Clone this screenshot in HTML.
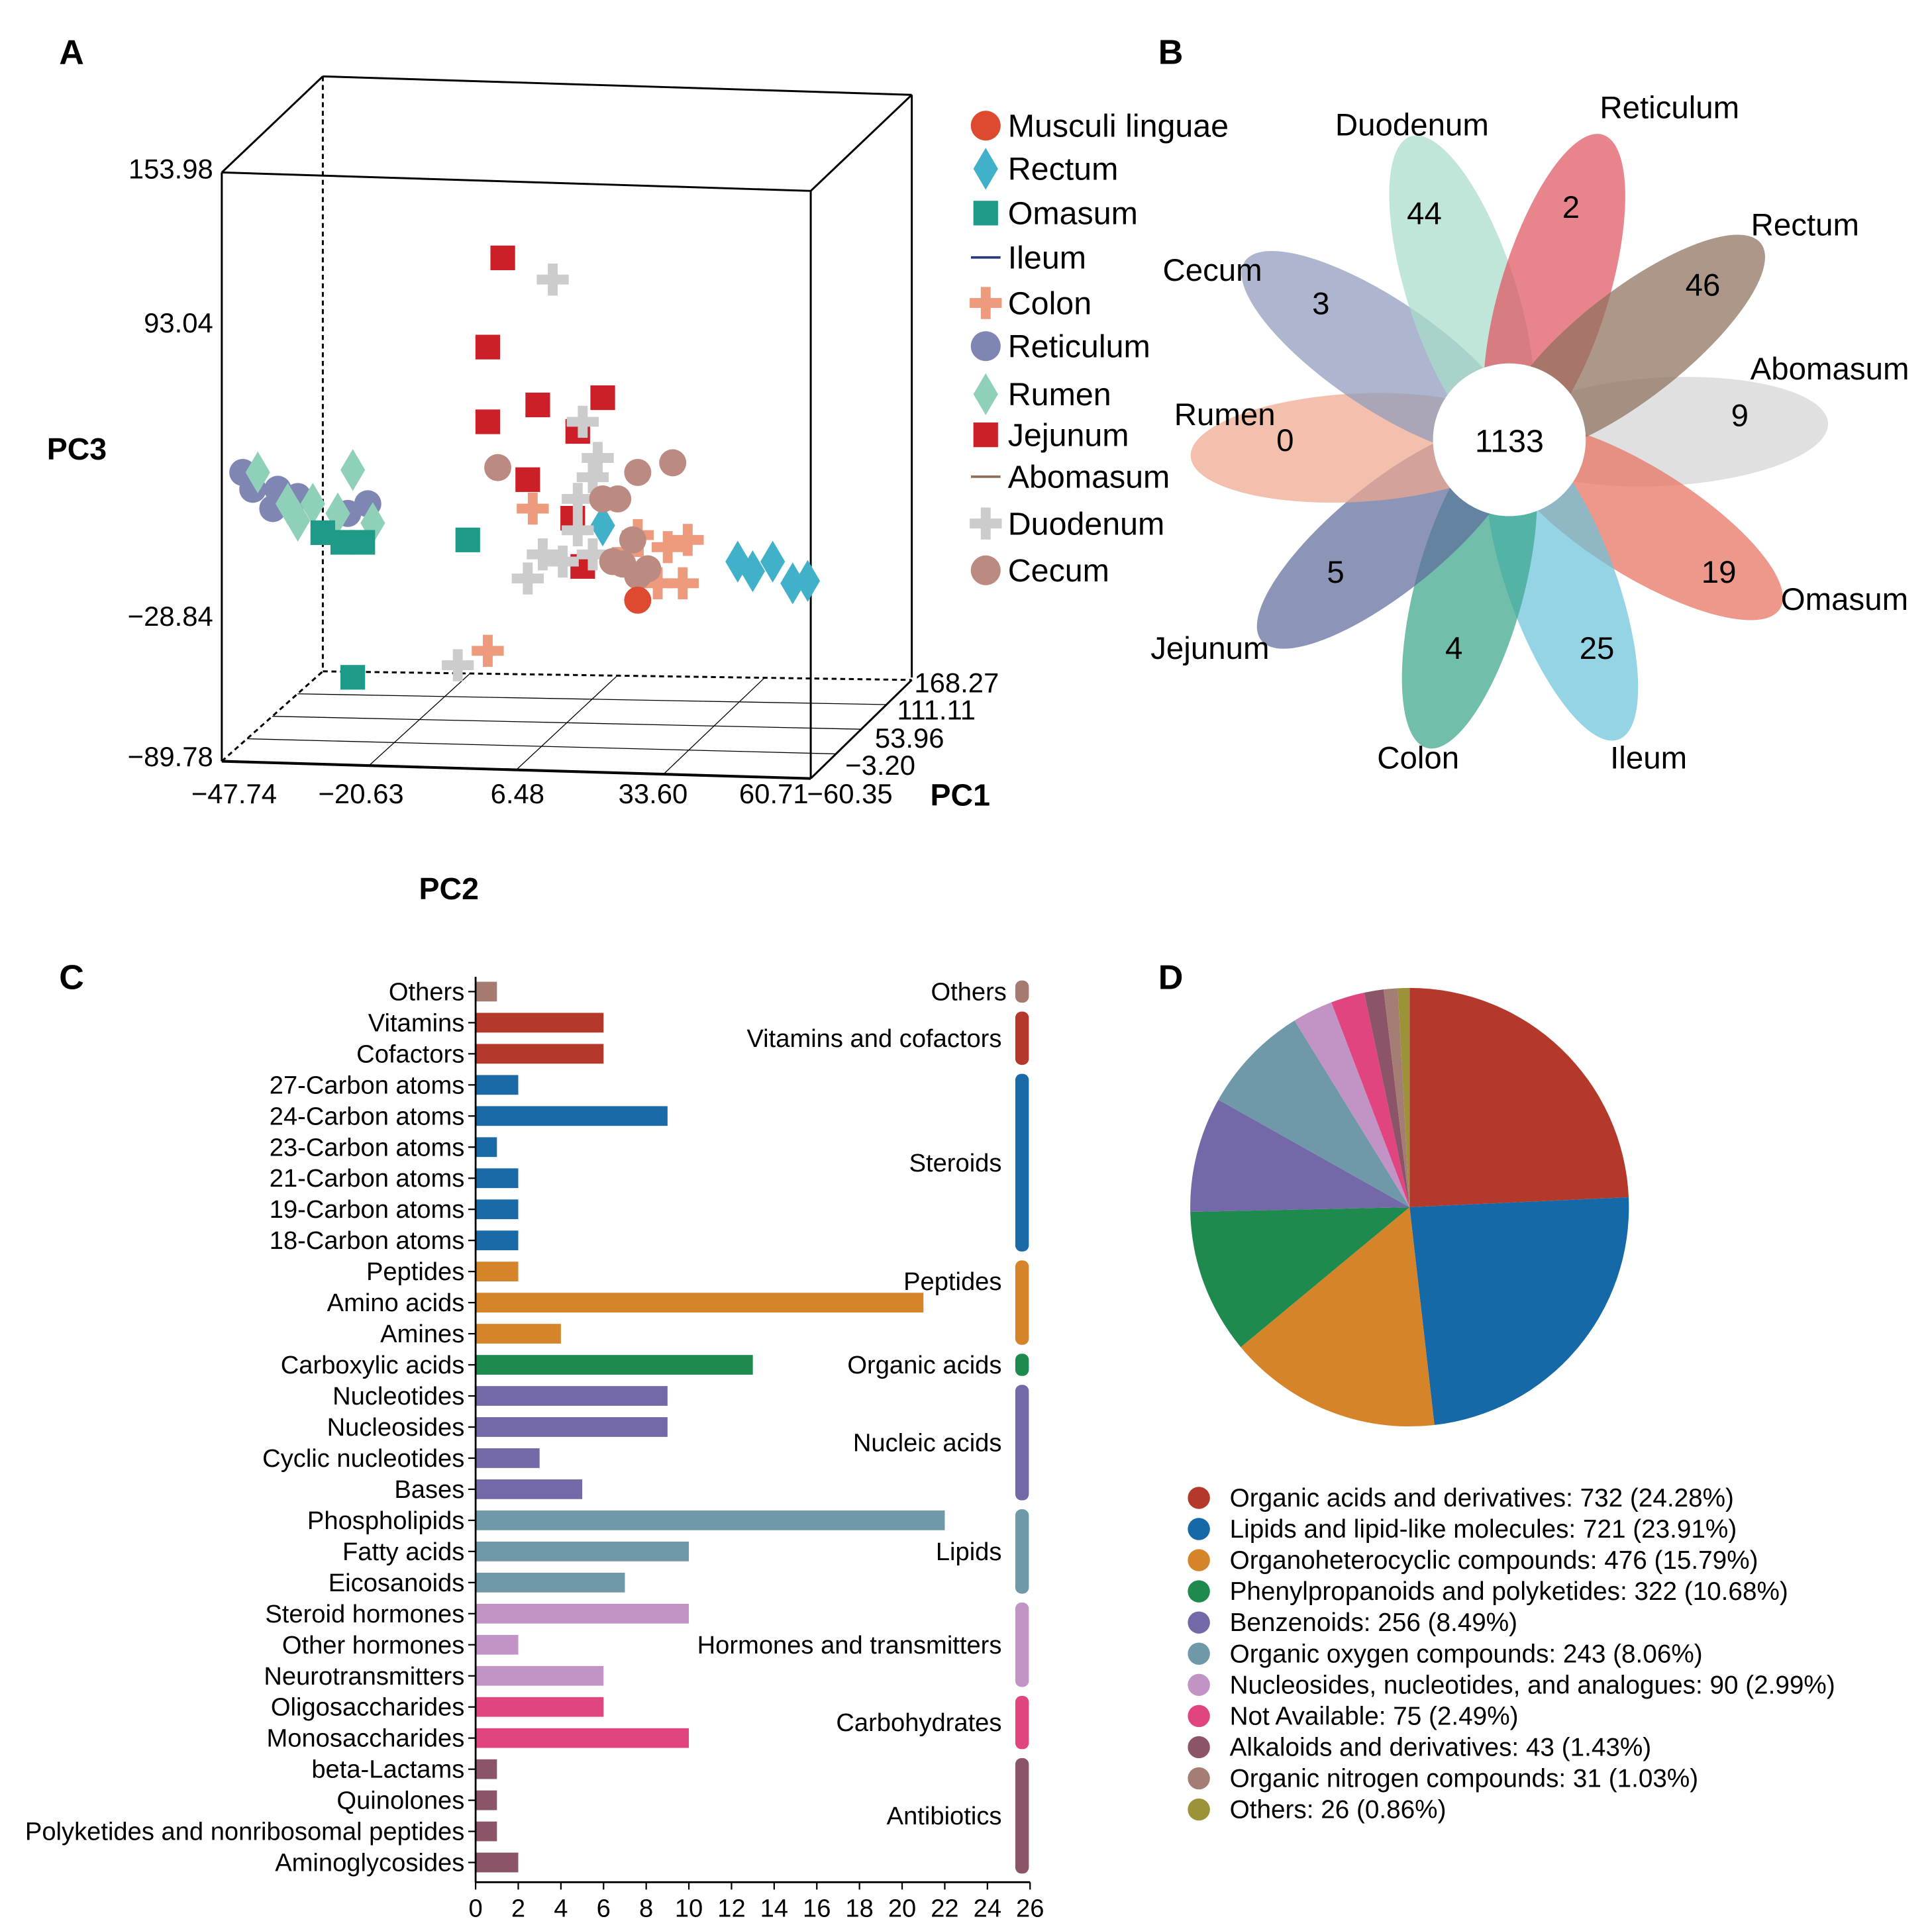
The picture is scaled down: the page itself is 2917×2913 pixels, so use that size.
<!DOCTYPE html>
<html><head><meta charset="utf-8"><style>
html,body{margin:0;padding:0;background:#fff;}
svg{display:block;font-family:"Liberation Sans",Arial,sans-serif;}
</style></head><body>
<svg id="fig" width="2917" height="2913" viewBox="0 0 1568 1566" preserveAspectRatio="none" xmlns="http://www.w3.org/2000/svg">
<g id="pA"></g>
<g id="pB"></g>
<g id="pC"></g>
<g id="pD"></g>
</svg>
<script>
// ---------- Panel C data ----------
const cCategories=["Others","Vitamins","Cofactors","27-Carbon atoms","24-Carbon atoms","23-Carbon atoms","21-Carbon atoms","19-Carbon atoms","18-Carbon atoms","Peptides","Amino acids","Amines","Carboxylic acids","Nucleotides","Nucleosides","Cyclic nucleotides","Bases","Phospholipids","Fatty acids","Eicosanoids","Steroid hormones","Other hormones","Neurotransmitters","Oligosaccharides","Monosaccharides","beta-Lactams","Quinolones","Polyketides and nonribosomal peptides","Aminoglycosides"];
const cValues=[1,6,6,2,9,1,2,2,2,2,21,4,13,9,9,3,5,22,10,7,10,2,6,6,10,1,1,1,2];
const cGroupIdx=[0,1,1,2,2,2,2,2,2,3,3,3,4,5,5,5,5,6,6,6,7,7,7,8,8,9,9,9,9];
const cGroups=["Others","Vitamins and cofactors","Steroids","Peptides","Organic acids","Nucleic acids","Lipids","Hormones and transmitters","Carbohydrates","Antibiotics"];
const cTicks=[0,2,4,6,8,10,12,14,16,18,20,22,24,26];
// ---------- Panel D data ----------
const dLabels=["Organic acids and derivatives","Lipids and lipid-like molecules","Organoheterocyclic compounds","Phenylpropanoids and polyketides","Benzenoids","Organic oxygen compounds","Nucleosides, nucleotides, and analogues","Not Available","Alkaloids and derivatives","Organic nitrogen compounds","Others"];
const dValues=[732,721,476,322,256,243,90,75,43,31,26];
// ---------- Panel B data ----------
const bNames=["Abomasum","Omasum","Ileum","Colon","Jejunum","Rumen","Cecum","Duodenum","Reticulum","Rectum"];
const bCounts=[9,19,25,4,5,0,3,44,2,46];
const bCore=[1133];
// ---------- Panel A data (PC2 horizontal, PC3 vertical, projected) ----------
const aReticulumX=[-46,-44,-39,-40,-35,-21,-25];
const aReticulumZ=[28,21,21,13,18,15,11];
const aRumenX=[-43,-37,-35,-32,-24,-20,-27];
const aRumenZ=[28,15,8,15,29,7,11];
const aOmasumX=[-30,-26,-22,-1,-24];
const aOmasumZ=[3,-1,-1,0,-57];
const aJejunumX=[6,3,13,26,3,11,20,22,21];
const aJejunumZ=[117,80,56,59,49,25,9,-11,45];
const aDuodumX=[16,22,25,24,21,21,14,18,11,-3,24];
const aDuodumZ=[108,49,34,26,17,4,-6,-9,-16,-52,-6];
const aColonX=[12,33,39,43,37,42,3,31];
const aColonZ=[13,2,-3,0,-18,-18,-46,-5];
const aCecumX=[5,33,40,26,29,32,30,35,28,33];
const aCecumZ=[30,28,32,17,17,0,-10,-12,-9,-15];
const aMusculiX=[33];
const aMusculiZ=[-25];
const aRectumX=[53,60,64,67,56,26];
const aRectumZ=[-9,-9,-18,-17,-13,6];

const NS="http://www.w3.org/2000/svg";
function mk(parent,tag,attrs,text){const e=document.createElementNS(NS,tag);for(const k in attrs)e.setAttribute(k,attrs[k]);if(text!==undefined)e.textContent=text;parent.appendChild(e);return e;}

// ================= Panel C =================
(function(){
const g=document.getElementById('pC');
const x0=386,x1=836,yTop=805,yBot=1512;
const sx=v=>x0+v*(x1-x0)/26;
const step=(yBot-yTop)/(cCategories.length-1);
const sy=i=>yTop+i*step;
const gColors=["#a57a70","#b5392b","#1a6aa8","#d6842a","#1e8a4e","#7469a8","#6f99a8","#c293c5","#e0457f","#8c5468"];
let t=mk(g,'text',{x:48,y:803,'font-size':28,'font-weight':'bold'},'C');

cCategories.forEach((c,i)=>{
 const r=mk(g,'rect',{x:x0,y:sy(i)-8,width:sx(cValues[i])-x0,height:16,fill:gColors[cGroupIdx[i]]});
 
 
 const l=mk(g,'text',{x:x0-9,y:sy(i)+7,'font-size':20.5,'text-anchor':'end'},c);
 
 
 mk(g,'line',{x1:x0-6,x2:x0,y1:sy(i),y2:sy(i),stroke:'#000','stroke-width':1.2});
});
mk(g,'line',{x1:x0,x2:x0,y1:yTop-12,y2:1528,stroke:'#000','stroke-width':1.5});
mk(g,'line',{x1:x0,x2:x1,y1:1528,y2:1528,stroke:'#000','stroke-width':1.5});
cTicks.forEach(v=>{
 mk(g,'line',{x1:sx(v),x2:sx(v),y1:1528,y2:1534,stroke:'#000','stroke-width':1.2});
 const tl=mk(g,'text',{x:sx(v),y:1556,'font-size':20.5,'text-anchor':'middle'},String(v));
 
 
});
cGroups.forEach((gn,k)=>{
 const idx=cGroupIdx.map((v,i)=>v===k?i:-1).filter(i=>i>=0);
 const a=sy(idx[0])-9,b=sy(idx[idx.length-1])+9;
 const r=mk(g,'rect',{x:824,y:a,width:11,height:b-a,rx:5,fill:gColors[k]});
 
 
 let ly=(a+b)/2+7;
 if(k===3) ly=a+24;
 const l=mk(g,'text',{x:gn==="Others"?817:813,y:ly,'font-size':20.5,'text-anchor':'end'},gn);
 
 
});
})();

// ================= Panel D =================
(function(){
const g=document.getElementById('pD');
const cols=["#b5392b","#1669a8","#d6842a","#1e8a4e","#7469a8","#6f99a8","#c293c5","#e0457f","#8c5468","#a47e74","#9c9238"];
let t=mk(g,'text',{x:940,y:803,'font-size':28,'font-weight':'bold'},'D');

const cx=1144,cy=980,R=178;
const tot=dValues.reduce((a,b)=>a+b,0);
let ang=-Math.PI/2;
dValues.forEach((v,i)=>{
 const a2=ang+v/tot*2*Math.PI;
 const x1=cx+R*Math.cos(ang),y1=cy+R*Math.sin(ang),x2=cx+R*Math.cos(a2),y2=cy+R*Math.sin(a2);
 const p=mk(g,'path',{d:`M${cx},${cy}L${x1},${y1}A${R},${R} 0 ${a2-ang>Math.PI?1:0} 1 ${x2},${y2}Z`,fill:cols[i]});
 
 
 ang=a2;
});
dLabels.forEach((l,i)=>{
 const y=1216+i*25.3;
 const c=mk(g,'circle',{cx:973,cy:y,r:9,fill:cols[i]});
 
 
 const tx=mk(g,'text',{x:998,y:y+7,'font-size':20.8},`${l}: ${dValues[i]} (${(dValues[i]/tot*100).toFixed(2)}%)`);
 
 
});
})();

// ================= Panel B =================
(function(){
const g=document.getElementById('pB');
let t=mk(g,'text',{x:940,y:52,'font-size':28,'font-weight':'bold'},'B');

const cx=1225,cy=357;
const angles=[-3,32,70,105,141,177,-146,-108,-73,-38];
const cols=["#d4d4d4","#e8705f","#6cc4d9","#3aa68a","#5f6c9c","#eea88f","#8e9abb","#a7dccb","#df5560","#8d6f5b"];
const labelPos=[[1485,308],[1497,495],[1338,624],[1151,624],[982,535],[994,345],[984,228],[1146,110],[1355,96],[1465,191]];
const numPos=[[1412,346],[1395,473],[1296,535],[1180,535],[1084,473],[1043,366],[1072,255],[1156,182],[1275,177],[1382,240]];
bNames.forEach((n,i)=>{
 const a=angles[i];
 const ex=cx+125*Math.cos(a*Math.PI/180),ey=cy+125*Math.sin(a*Math.PI/180);
 const e=mk(g,'ellipse',{cx:ex,cy:ey,rx:134,ry:44,fill:cols[i],opacity:0.72,transform:`rotate(${a} ${ex} ${ey})`});
 
 
});
const c=mk(g,'circle',{cx:cx,cy:cy,r:62,fill:'#fff'});

const ct=mk(g,'text',{x:cx,y:cy+10,'font-size':26,'text-anchor':'middle'},String(bCore[0]));

bNames.forEach((n,i)=>{
 const l=mk(g,'text',{x:labelPos[i][0],y:labelPos[i][1],'font-size':25.5,'text-anchor':'middle'},n);
 
 
 const nt=mk(g,'text',{x:numPos[i][0],y:numPos[i][1],'font-size':25.5,'text-anchor':'middle'},String(bCounts[i]));
 
 
});
})();

// ================= Panel A =================
(function(){
const g=document.getElementById('pA');
let t=mk(g,'text',{x:48,y:52,'font-size':28,'font-weight':'bold'},'A');

const L=(x1,y1,x2,y2,dash,w)=>mk(g,'line',{x1,y1,x2,y2,stroke:'#000','stroke-width':w||1.6,'stroke-dasharray':dash?'4,3':'none'});
L(180,140,658,155);L(262,62,740,77);L(180,140,262,62);L(658,155,740,77);
L(180,140,180,618);L(658,155,658,632);L(740,77,740,550);
L(262,62,262,545,true);L(262,545,740,552,true);L(180,618,262,545,true);
L(180,618,658,632,false,2.2);L(658,632,740,552);
for(let k=1;k<=3;k++){const f=k/4;L(180+82*f,618-73*f,658+82*f,632-80*f,false,0.7);}
for(let k=1;k<=3;k++){const f=k/4;L(180+478*f,618+14*f,262+478*f,545+7*f,false,0.7);}
const sx=v=>190+(v+47.74)*(630-190)/108.45;
const sy=v=>137+(153.98-v)*(614-137)/243.76;
[["153.98",137],["93.04",262],["\u221228.84",500],["\u221289.78",614]].forEach(([s,y])=>{
 const e=mk(g,'text',{x:173,y:y+8,'font-size':22.5,'text-anchor':'end'},s);
 
});
[["\u221247.74",190],["\u221220.63",293],["6.48",420],["33.60",530],["60.71",628]].forEach(([s,x])=>{
 const e=mk(g,'text',{x:x,y:652,'font-size':22.5,'text-anchor':'middle'},s);
 
});
[["168.27",742,562],["111.11",728,584],["53.96",710,607],["\u22123.20",686,629],["\u221260.35",655,652]].forEach(([s,x,y])=>{
 const e=mk(g,'text',{x:x,y:y,'font-size':22.5},s);
 
});
let a=mk(g,'text',{x:38,y:373,'font-size':25,'font-weight':'bold'},'PC3');
a=mk(g,'text',{x:755,y:654,'font-size':25,'font-weight':'bold'},'PC1');
a=mk(g,'text',{x:340,y:730,'font-size':25,'font-weight':'bold'},'PC2');

function marker(parent,shape,x,y,col,s){
 s=s||1;
 if(shape==='circle') return mk(parent,'circle',{cx:x,cy:y,r:11*s,fill:col});
 if(shape==='square') return mk(parent,'rect',{x:x-10*s,y:y-10*s,width:20*s,height:20*s,fill:col});
 if(shape==='diamond') return mk(parent,'polygon',{points:`${x},${y-17*s} ${x+10*s},${y} ${x},${y+17*s} ${x-10*s},${y}`,fill:col});
 if(shape==='plus') return mk(parent,'path',{d:`M${x-4*s},${y-13*s}h${8*s}v${9*s}h${9*s}v${8*s}h${-9*s}v${9*s}h${-8*s}v${-9*s}h${-9*s}v${-8*s}h${9*s}z`,fill:col});
 if(shape==='line') return mk(parent,'rect',{x:x-12,y:y-1,width:24,height:2,fill:col});
}
const series=[
 ["Reticulum",aReticulumX,aReticulumZ,'circle','#7f86b3'],
 ["Rumen",aRumenX,aRumenZ,'diamond','#8fd0b8'],
 ["Omasum",aOmasumX,aOmasumZ,'square','#1e9a88'],
 ["Jejunum",aJejunumX,aJejunumZ,'square','#cc1f27'],
 ["Rectum",aRectumX,aRectumZ,'diamond','#41b0c9'],
 ["Duodenum",aDuodumX,aDuodumZ,'plus','#cccccc'],
 ["Colon",aColonX,aColonZ,'plus','#ee9a7c'],
 ["Cecum",aCecumX,aCecumZ,'circle','#bb8b82'],
 ["Musculi linguae",aMusculiX,aMusculiZ,'circle','#dd4a30']];
series.forEach(([n,xs,zs,sh,col])=>{
 xs.forEach((v,i)=>{
  const m=marker(g,sh,sx(v),sy(zs[i]),col);
  
  
 });
});
const lg=[["Musculi linguae",'circle','#dd4a30',102],["Rectum",'diamond','#41b0c9',137],["Omasum",'square','#1e9a88',173],["Ileum",'line','#2b3a7a',209],["Colon",'plus','#ee9a7c',246],["Reticulum",'circle','#7f86b3',281],["Rumen",'diamond','#8fd0b8',320],["Jejunum",'square','#cc1f27',353],["Abomasum",'line','#8d6f5b',387],["Duodenum",'plus','#cccccc',425],["Cecum",'circle','#bb8b82',463]];
lg.forEach(([n,sh,col,y])=>{
 const m=marker(g,sh,800,y,col,sh==='circle'?1.1:1);
 
 
 const tx=mk(g,'text',{x:818,y:y+9,'font-size':26},n);
 
 
});
})();
</script>
</body></html>
